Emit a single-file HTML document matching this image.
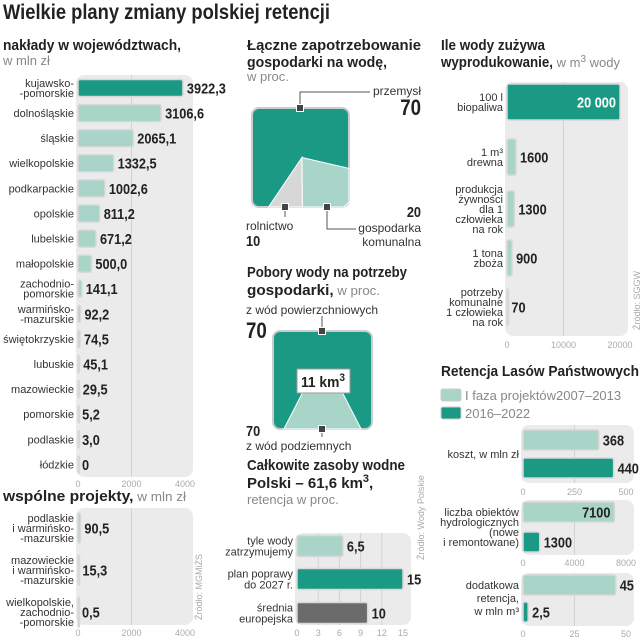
<!DOCTYPE html>
<html><head><meta charset="utf-8">
<style>
html,body{margin:0;padding:0;background:#fff;}
svg{display:block;font-family:"Liberation Sans Narrow","Liberation Sans",sans-serif;}
</style></head>
<body>
<svg id="c" width="644" height="640" viewBox="0 0 644 640">
<text x="3" y="19" font-size="21" font-weight="bold" fill="#222" textLength="327" lengthAdjust="spacingAndGlyphs">Wielkie plany zmiany polskiej retencji</text>
<text x="3" y="50" font-size="15" font-weight="bold" fill="#222" textLength="178" lengthAdjust="spacingAndGlyphs">nakłady w województwach,</text>
<text x="3" y="65" font-size="13" fill="#888">w mln zł</text>
<text x="3" y="501" font-size="15" textLength="183" lengthAdjust="spacingAndGlyphs"><tspan font-weight="bold" fill="#222">wspólne projekty,</tspan><tspan fill="#888" font-size="13"> w mln zł</tspan></text>
<text transform="translate(202,620) rotate(-90)" font-size="9" fill="#aaa">Źródło: MGMiŻS</text>

<text x="247" y="50" font-size="15" font-weight="bold" fill="#222" textLength="174" lengthAdjust="spacingAndGlyphs">Łączne zapotrzebowanie</text>
<text x="247" y="67" font-size="15" font-weight="bold" fill="#222" textLength="140" lengthAdjust="spacingAndGlyphs">gospodarki na wodę,</text>
<text x="247" y="81" font-size="13" fill="#888">w proc.</text>

<text x="247" y="277" font-size="15" font-weight="bold" fill="#222" textLength="160" lengthAdjust="spacingAndGlyphs">Pobory wody na potrzeby</text>
<text x="247" y="295" font-size="15" textLength="133" lengthAdjust="spacingAndGlyphs"><tspan font-weight="bold" fill="#222">gospodarki,</tspan><tspan fill="#888" font-size="13"> w proc.</tspan></text>

<text x="247" y="470" font-size="15" font-weight="bold" fill="#222" textLength="158" lengthAdjust="spacingAndGlyphs">Całkowite zasoby wodne</text>
<text x="247" y="488" font-size="15" font-weight="bold" fill="#222">Polski – 61,6 km<tspan dy="-6" font-size="11">3</tspan><tspan dy="6">,</tspan></text>
<text x="247" y="504" font-size="13" fill="#888">retencja w proc.</text>
<text transform="translate(424,560) rotate(-90)" font-size="9" fill="#aaa">Źródło: Wody Polskie</text>

<text x="441" y="50" font-size="15" font-weight="bold" fill="#222" textLength="104" lengthAdjust="spacingAndGlyphs">Ile wody zużywa</text>
<text x="441" y="67" font-size="15"><tspan font-weight="bold" fill="#222" textLength="112" lengthAdjust="spacingAndGlyphs">wyprodukowanie,</tspan><tspan fill="#888" font-size="13"> w  m<tspan dy="-5" font-size="10">3</tspan><tspan dy="5"> wody</tspan></tspan></text>
<text transform="translate(640,330) rotate(-90)" font-size="9" fill="#aaa">Źródło: SGGW</text>

<text x="441" y="376" font-size="15" font-weight="bold" fill="#222" textLength="198" lengthAdjust="spacingAndGlyphs">Retencja Lasów Państwowych</text>
<rect x="441" y="389" width="20" height="12" rx="2" fill="#a8d5c8" stroke="#ccc"/>
<text x="465" y="400" font-size="13" fill="#888">I faza projektów2007–2013</text>
<rect x="441" y="407" width="20" height="12" rx="2" fill="#1a9a85" stroke="#ccc"/>
<text x="465" y="418" font-size="13" fill="#888">2016–2022</text>
<g id="g"></g>
</svg>
<script>
// ---- data ----
var regionCats = ["kujawsko-|-pomorskie","dolnośląskie","śląskie","wielkopolskie","podkarpackie","opolskie","lubelskie","małopolskie","zachodnio-|pomorskie","warmińsko-|-mazurskie","świętokrzyskie","lubuskie","mazowieckie","pomorskie","podlaskie","łódzkie"];
var regionVals = [3922.3,3106.6,2065.1,1332.5,1002.6,811.2,671.2,500.0,141.1,92.2,74.5,45.1,29.5,5.2,3.0,0];
var regionLabels = ["3922,3","3106,6","2065,1","1332,5","1002,6","811,2","671,2","500,0","141,1","92,2","74,5","45,1","29,5","5,2","3,0","0"];
var regionTicks = [0,2000,4000];
var jointCats = ["podlaskie|i warmińsko-|-mazurskie","mazowieckie|i warmińsko-|-mazurskie","wielkopolskie,|zachodnio-|-pomorskie"];
var jointVals = [90.5,15.3,0.5];
var jointLabels = ["90,5","15,3","0,5"];
var demandShares = [70,10,20]; // przemysł, rolnictwo, komunalna
var intakeShares = [70,30];
var resCats = ["tyle wody|zatrzymujemy","plan poprawy|do 2027 r.","średnia|europejska"];
var resVals = [6.5,15,10];
var resLabels = ["6,5","15","10"];
var resTicks = [0,3,6,9,12,15];
var useCats = ["100 l|biopaliwa","1 m³|drewna","produkcja|żywności|dla 1|człowieka|na rok","1 tona|zboża","potrzeby|komunalne|1 człowieka|na rok"];
var useVals = [20000,1600,1300,900,70];
var useLabels = ["20 000","1600","1300","900","70"];
var useTicks = [0,10000,20000];
var costVals = [368,440];
var costTicks = [0,250,500];
var objVals = [7100,1300];
var objTicks = [0,4000,8000];
var retVals = [45,2.5];
var retLabels = ["45","2,5"];
var retTicks = [0,25,50];

var NS="http://www.w3.org/2000/svg", G=document.getElementById('g');
var TEAL="#1a9a85", LIGHT="#a8d5c8", PANEL="#ebebeb";
function mk(t,a,p){var e=document.createElementNS(NS,t);for(var k in a)e.setAttribute(k,a[k]);(p||G).appendChild(e);return e;}
function txt(x,y,s,size,fill,anchor,bold){var e=mk('text',{x:x,y:y,'font-size':size,fill:fill,'text-anchor':anchor||'start'});if(bold){e.setAttribute('font-weight','bold');e.setAttribute('transform','translate('+x+','+y+') scale(0.85,1) translate('+(-x)+','+(-y)+')');}e.textContent=s;return e;}
function multi(x,yc,s,size,lh){var lines=s.split('|');var y0=yc-(lines.length-1)*lh/2+size*0.35;var out=[];lines.forEach(function(l,i){out.push(txt(x,y0+i*lh,l,size,'#333','end'));});return out;}

function chart(o){
  var sx=function(v){return o.x0+(v-o.ticks[0])/(o.ticks[o.ticks.length-1]-o.ticks[0])*(o.x1-o.x0);};
  var p=mk('rect',{x:o.x0-2,y:o.py0,width:o.x1-o.x0+10,height:o.py1-o.py0,rx:8,fill:PANEL});
  
  
  o.ticks.forEach(function(t,i){
    if(i>0&&i<o.ticks.length-1){var gl=mk('line',{x1:sx(t),x2:sx(t),y1:o.py0,y2:o.py1,stroke:'#d2d2d2','stroke-width':1});
      
      }
    var tl=txt(sx(t),o.ty,String(t),9,'#aaa','middle');
    
    
  });
  o.vals.forEach(function(v,i){
    var yc=o.ys[i], w=Math.max(sx(v)-o.x0,1.5);
    var col=o.colors[i];
    var b=mk('rect',{x:o.x0,y:yc-o.bh/2,width:w,height:o.bh,rx:2,fill:col,stroke:'#d8d8d8','stroke-width':1.5});
    
    
    if(o.cats&&o.cats[i]){multi(o.x0-4,yc,o.cats[i],o.cs||11,o.lh||11).forEach(function(e){
      
      });}
    var inside=o.inside&&o.inside[i];
    var vl=inside?txt(sx(v)-4,yc+o.vs*0.36,o.labels[i],o.vs,'#fff','end',true):txt(sx(v)+4,yc+o.vs*0.36,o.labels[i],o.vs,'#222','start',true);
    if(inside&&col==LIGHT)vl.setAttribute('fill','#222');
    
    
  });
}
var rYs=regionVals.map(function(_,i){return 88+i*25.1;});
chart({name:'regions',x0:78,x1:185,py0:75,py1:477,ty:487,ticks:regionTicks,vals:regionVals,labels:regionLabels,cats:regionCats,ys:rYs,bh:17,vs:15,
  colors:regionVals.map(function(_,i){return i==0?TEAL:LIGHT;}),cs:11,lh:10});
chart({name:'joint',x0:78,x1:185,py0:508,py1:625,ty:636,ticks:regionTicks,vals:jointVals,labels:jointLabels,cats:jointCats,ys:[528,570,612],bh:30,vs:15,
  colors:[LIGHT,LIGHT,LIGHT],cs:11,lh:10});
chart({name:'resources',x0:297,x1:403,py0:533,py1:625,ty:636,ticks:resTicks,vals:resVals,labels:resLabels,cats:resCats,ys:[546,579,613],bh:21,vs:15,
  colors:[LIGHT,TEAL,'#6b6b6b'],cs:11,lh:11});
chart({name:'usage',x0:507,x1:620,py0:82,py1:336,ty:348,ticks:useTicks,vals:useVals,labels:useLabels,cats:useCats,ys:[102,157,209,258,307],bh:36,vs:15,
  colors:[TEAL,LIGHT,LIGHT,LIGHT,LIGHT],inside:[true],cs:11,lh:10});
chart({name:'cost',x0:523,x1:626,py0:425,py1:483,ty:495,ticks:costTicks,vals:costVals,labels:["368","440"],ys:[440,468],bh:20,vs:15,colors:[LIGHT,TEAL]});
chart({name:'objects',x0:523,x1:626,py0:500,py1:555,ty:566,ticks:objTicks,vals:objVals,labels:["7100","1300"],ys:[512,542],bh:20,vs:15,colors:[LIGHT,TEAL],inside:[true]});
chart({name:'retention',x0:523,x1:626,py0:573,py1:626,ty:637,ticks:retTicks,vals:retVals,labels:retLabels,ys:[585,612],bh:20,vs:15,colors:[LIGHT,TEAL]});
[["koszt, w mln zł",519,458]].forEach(function(a){var t=txt(a[1],a[2],a[0],11,'#333','end');});
multi(519,527,"liczba obiektów|hydrologicznych|(nowe|i remontowane)",11,10).forEach(function(e){});
multi(519,598,"dodatkowa|retencja,|w mln m³",11,13).forEach(function(e){});

// ---- demand square ----
(function(){
  var x0=252,y0=108,W=97,H=99;
  var total=demandShares.reduce(function(a,b){return a+b;},0);
  var bg=mk('rect',{x:x0,y:y0,width:W,height:H,rx:7,fill:TEAL,stroke:'#ccc','stroke-width':2});
  
  
  var ax=x0+W*0.515, ay=y0+H*0.5;
  var agrW=W*demandShares[1]/total*3.5;
  var mid=x0+W*0.52;
  var t=mk('polygon',{points:(mid-agrW)+','+(y0+H)+' '+ax+','+ay+' '+mid+','+(y0+H),fill:'#d7d7d7',stroke:'#fff','stroke-width':1});
  
  
  var q=mk('polygon',{points:ax+','+ay+' '+(x0+W)+','+(y0+H*0.61)+' '+(x0+W)+','+(y0+H-5)+' '+(x0+W-5)+','+(y0+H)+' '+mid+','+(y0+H),fill:LIGHT,stroke:'#fff','stroke-width':1});
  
  
  mk('polyline',{points:'300,108 300,92 370,92',fill:'none',stroke:'#555','stroke-width':1});
  mk('polyline',{points:'285,207 285,217',fill:'none',stroke:'#555','stroke-width':1});
  mk('polyline',{points:'327,207 327,229 356,229',fill:'none',stroke:'#555','stroke-width':1});
  [[300,108],[285,207],[327,207]].forEach(function(p){var m=mk('rect',{x:p[0]-3.5,y:p[1]-3.5,width:7,height:7,fill:'#444',stroke:'#fff','stroke-width':1});
    
    });
  var l;
  l=txt(421,95,'przemysł',12,'#333','end');
  l=txt(421,115,String(demandShares[0]),22,'#222','end',true);
  l=txt(246,230,'rolnictwo',12,'#333');
  l=txt(246,246,String(demandShares[1]),15,'#222','start',true);
  l=txt(421,217,String(demandShares[2]),15,'#222','end',true);
  l=txt(421,232,'gospodarka',12,'#333','end');
  l=txt(421,246,'komunalna',12,'#333','end');
})();

// ---- intake square ----
(function(){
  var x0=273,y0=331,W=99,H=98;
  var bg=mk('rect',{x:x0,y:y0,width:W,height:H,rx:7,fill:TEAL,stroke:'#ccc','stroke-width':2});
  
  
  var f=intakeShares[1]/(intakeShares[0]+intakeShares[1]);
  var tw=W*f*2.6, cx=x0+W/2;
  var tr=mk('polygon',{points:(cx-tw/2)+','+(y0+H)+' '+(cx-14)+','+(y0+H-48)+' '+(cx+14)+','+(y0+H-48)+' '+(cx+tw/2)+','+(y0+H),fill:LIGHT,stroke:'#fff','stroke-width':1});
  
  
  var lb=mk('rect',{x:297,y:369,width:53,height:24,fill:'#fff',stroke:'#999','stroke-width':1});
  
  
  var t=mk('text',{x:323,y:387,'font-size':15,'font-weight':'bold','text-anchor':'middle',fill:'#222',textLength:44,lengthAdjust:'spacingAndGlyphs'});
  t.innerHTML='11 km<tspan dy="-6" font-size="11">3</tspan>';
  
  
  mk('line',{x1:322,y1:316,x2:322,y2:331,stroke:'#555'});
  mk('line',{x1:322,y1:429,x2:322,y2:437,stroke:'#555'});
  [[322,331],[322,429]].forEach(function(p){var m=mk('rect',{x:p[0]-3.5,y:p[1]-3.5,width:7,height:7,fill:'#444',stroke:'#fff','stroke-width':1});
    
    });
  var l;
  l=txt(246,314,'z wód powierzchniowych',12,'#333');
  l=txt(246,338,String(intakeShares[0]),22,'#222','start',true);
  l=txt(246,436,String(intakeShares[0]),15,'#222','start',true);
  l=txt(246,450,'z wód podziemnych',12,'#333');
})();
</script>
</body></html>
